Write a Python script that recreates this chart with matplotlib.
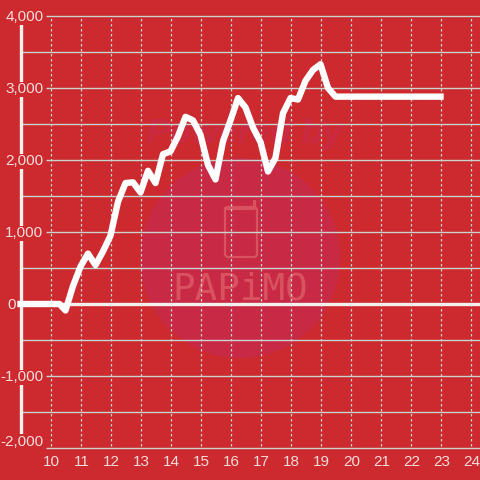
#!/usr/bin/env python3

"""Redraw of the red slump graph."""

import matplotlib
matplotlib.use('Agg')

import matplotlib.pyplot as plt
from matplotlib.patches import Circle, FancyBboxPatch

hours = [9, 9.5, 10, 10.3, 10.5, 10.75, 11, 11.25, 11.5, 11.75, 12, 12.25, 12.5, 12.75,
         13, 13.25, 13.5, 13.75, 14, 14.25, 14.5, 14.75, 15, 15.25, 15.5, 15.75,
         16, 16.25, 16.5, 16.75, 17, 17.25, 17.5, 17.75, 18, 18.25, 18.5, 18.75,
         19, 19.25, 19.5, 20, 21, 22, 23]
slump = [0, 0, 0, 0, -90, 250, 520, 700, 540, 730, 950, 1420, 1680, 1690,
         1550, 1850, 1680, 2080, 2120, 2330, 2600, 2550, 2350, 1930, 1730, 2260,
         2550, 2860, 2730, 2450, 2250, 1840, 2030, 2650, 2860, 2840, 3100, 3250,
         3330, 3000, 2880, 2880, 2880, 2880, 2880]

x_ticks = [10, 11, 12, 13, 14, 15, 16, 17, 18, 19, 20, 21, 22, 23, 24]
y_ticks = [4000, 3000, 2000, 1000, 0, -1000, -2000]
y_minor = [3500, 2500, 1500, 500, -500, -1500]

BG = '#cc2a2e'
GRID = '#c9d3cf'
LABEL = '#f7dcdc'
WHITE = '#f4f0ee'


def draw_watermark(fig):
    # pixel coordinates, y going down
    wm = fig.add_axes([0, 0, 1, 1], zorder=0)
    wm.set_xlim(0, 480)
    wm.set_ylim(480, 0)
    wm.axis('off')
    wm.add_patch(Circle((240, 258), 100, fc='#c82a46', ec='none'))
    wm.add_patch(FancyBboxPatch((225, 207), 32, 50, boxstyle='round,pad=0,rounding_size=3',
                                fc='none', ec='#d9525f', lw=1.6))
    wm.plot([225, 254, 254], [208, 208, 201], color='#d9525f', lw=2.2)
    wm.text(240, 290, 'PAPiMO', color='#d9525f', fontsize=27, family='DejaVu Sans Mono',
            ha='center', va='center')
    wm.text(245, 134, 'Powered by', color='#c92a42', fontsize=25, style='italic', fontweight='bold',
            family='Liberation Sans', ha='center', va='center')


def main():
    plt.rcParams['font.family'] = ['Liberation Sans', 'DejaVu Sans']
    fig = plt.figure(figsize=(4.8, 4.8), dpi=100, facecolor=BG)
    draw_watermark(fig)

    ax = fig.add_axes([0, 0, 1, 1], zorder=1)
    ax.patch.set_alpha(0)
    ax.axis('off')
    ax.set_xlim(10 - 50.5 / 30, 10 + 429.5 / 30)
    ax.set_ylim(-176 / 0.072, 304 / 0.072)

    left = 9.0
    ax.vlines(x_ticks, -1970, 3985, color=GRID, lw=0.9, linestyles=(0, (2, 2)), zorder=1)
    ax.hlines(y_minor, left, 24.4, color=GRID, lw=1, zorder=1)
    ax.hlines([v for v in y_ticks if v != 0], 9.85, 24.4, color=GRID, lw=1, zorder=1)
    ax.vlines(left, -1850, 3890, color=WHITE, lw=2.4, zorder=2)
    ax.hlines(0, left, 24.4, color=WHITE, lw=2.4, zorder=2)

    ax.plot(hours, slump, color='white', lw=4.6, solid_joinstyle='round', solid_capstyle='projecting', zorder=3)

    for v in y_ticks:
        # the labels sit on red patches that cut the axis line, except for 0
        if v == 0:
            ax.text(8.85, -15, '0', color=LABEL, fontsize=11, ha='right', va='center', zorder=4)
            continue
        y = 90 + v if v == -2000 else v - 20
        ax.text(9.76, y, f'{v:,}', color=LABEL, fontsize=11, ha='right', va='center', zorder=4,
                bbox=dict(fc=BG, ec='none', pad=0.6))
    for h in x_ticks:
        ax.text(h + 0.04, -2190, str(h), color=LABEL, fontsize=11, ha='center', va='center', zorder=4)

    fig.savefig('out.png', dpi=100, facecolor=BG)


if __name__ == '__main__':
    main()
